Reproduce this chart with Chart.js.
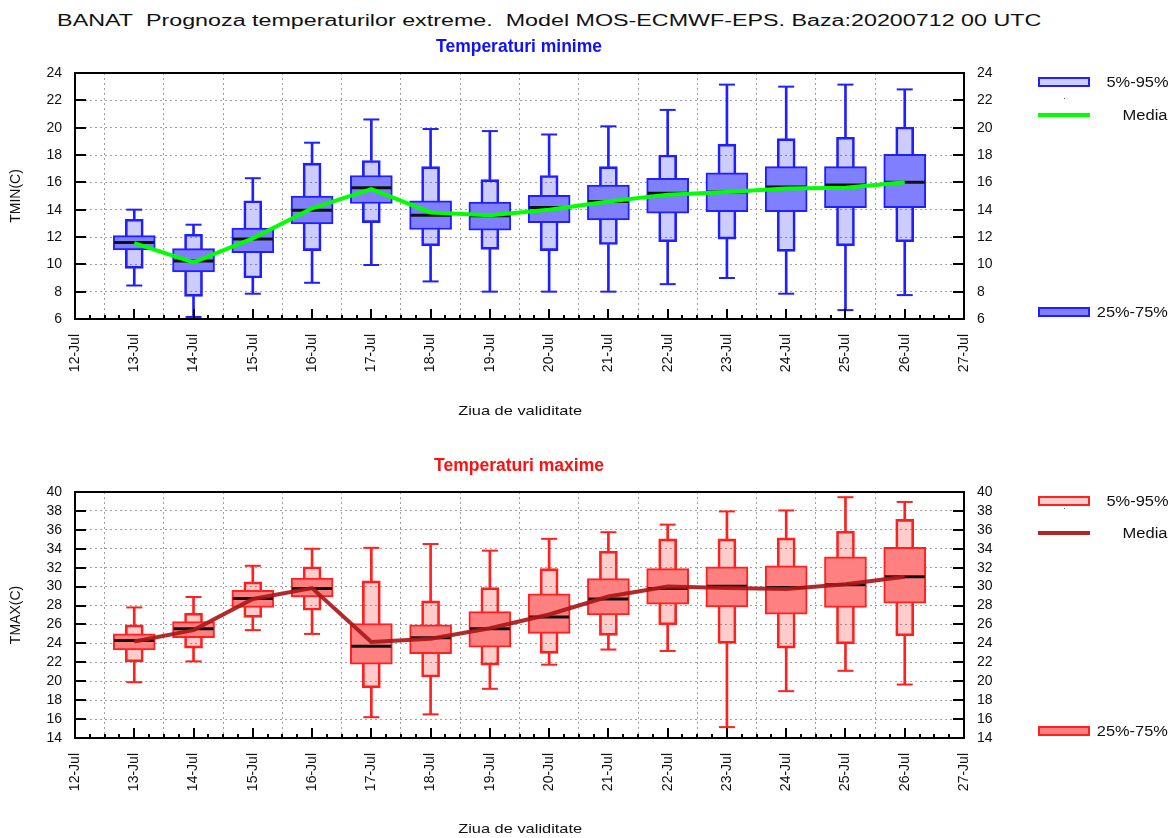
<!DOCTYPE html>
<html>
<head>
<meta charset="utf-8">
<script src="https://cdn.jsdelivr.net/npm/chart.js@4.4.0/dist/chart.umd.min.js"></script>
<style>
  body { margin: 0; background: #fff; font-family: "Liberation Sans", Arial, sans-serif; color: #111; }
  #page { position: relative; width: 1171px; height: 838px; overflow: hidden; }
  .panel { position: absolute; left: 0; width: 1171px; height: 419px; }
  .panel canvas { position: absolute; left: 0; top: 0; }
  .txt { position: absolute; white-space: nowrap; line-height: 1; display: inline-block; transform-origin: 50% 50%; }
  .sub { position: absolute; left: 519px; top: 38px; transform: translateX(-50%); font-size: 17.5px; font-weight: bold; line-height: 1; white-space: nowrap; }
  .sw { position: absolute; left: 1038px; width: 48px; height: 6px; border: 2px solid; }
  .ln { position: absolute; left: 1038px; width: 52px; height: 4px; }
  .dot { position: absolute; left: 1064px; width: 1px; height: 1px; background: #666; }
</style>
</head>
<body>
<div id="page">
  <div class="txt" style="top:13px;font-size:16px;" data-cx="549" data-w="984">BANAT&nbsp; Prognoza temperaturilor extreme.&nbsp; Model MOS-ECMWF-EPS. Baza:20200712 00 UTC</div>

  <div class="panel" style="top:0">
    <canvas id="cMin" width="1171" height="419"></canvas>
    <div class="sub" style="color:#1010ff">Temperaturi minime</div>
    <div class="txt" style="top:404px;font-size:13px;" data-cx="520" data-w="124">Ziua de validitate</div>
    <div class="sw" style="top:77px;background:#ccccff;border-color:#2020ff"></div>
    <div class="txt" style="top:75px;font-size:14px;" data-cx="1137" data-w="62">5%-95%</div>
    <div class="dot" style="top:98px"></div>
    <div class="ln" style="top:113px;background:#00ff00"></div>
    <div class="txt" style="top:108px;font-size:14px;" data-cx="1145.5" data-w="45">Media</div>
    <div class="sw" style="top:307px;background:#8080ff;border-color:#2020ff"></div>
    <div class="txt" style="top:305px;font-size:14px;" data-cx="1132.5" data-w="71">25%-75%</div>
  </div>

  <div class="panel" style="top:419px">
    <canvas id="cMax" width="1171" height="419"></canvas>
    <div class="sub" style="color:#ff1010">Temperaturi maxime</div>
    <div class="txt" style="top:403px;font-size:13px;" data-cx="520" data-w="124">Ziua de validitate</div>
    <div class="sw" style="top:77px;background:#ffcccc;border-color:#ff2020"></div>
    <div class="txt" style="top:75px;font-size:14px;" data-cx="1137" data-w="62">5%-95%</div>
    <div class="dot" style="top:89px"></div>
    <div class="ln" style="top:112px;background:#b02525"></div>
    <div class="txt" style="top:107px;font-size:14px;" data-cx="1145.5" data-w="45">Media</div>
    <div class="sw" style="top:307px;background:#ff8080;border-color:#ff2020"></div>
    <div class="txt" style="top:305px;font-size:14px;" data-cx="1132.5" data-w="71">25%-75%</div>
  </div>
</div>

<script>
// validity days (July)
const days = [13, 14, 15, 16, 17, 18, 19, 20, 21, 22, 23, 24, 25, 26];

// TMIN ensemble statistics
const tminMin  = [8.45, 6.15, 7.85, 8.65, 9.95, 8.75, 8.0, 8.0, 8.0, 8.55, 9.0, 7.85, 6.65, 7.75];
const tminP5   = [9.7, 7.65, 9.0, 11.0, 13.05, 11.35, 11.1, 11.0, 11.45, 11.65, 11.85, 10.95, 11.35, 11.65];
const tminP25  = [11.05, 9.45, 10.85, 12.95, 14.45, 12.55, 12.5, 13.05, 13.25, 13.75, 13.85, 13.85, 14.15, 14.15];
const tminMed  = [11.6, 10.25, 11.85, 13.95, 15.6, 13.6, 13.55, 14.15, 14.6, 15.2, 15.3, 15.65, 15.8, 16.0];
const tminP75  = [12.1, 11.15, 12.65, 15.0, 16.5, 14.65, 14.55, 15.05, 15.8, 16.3, 16.7, 17.15, 17.15, 18.05];
const tminP95  = [13.3, 12.2, 14.65, 17.4, 17.6, 17.15, 16.2, 16.5, 17.15, 18.0, 18.8, 19.2, 19.3, 20.05];
const tminMax  = [14.0, 12.9, 16.3, 18.9, 20.6, 19.9, 19.75, 19.5, 20.1, 21.3, 23.15, 23.0, 23.15, 22.8];
const tminMean = [11.55, 10.15, 11.9, 14.1, 15.5, 13.8, 13.6, 14.0, 14.6, 15.1, 15.3, 15.55, 15.6, 16.0];

// TMAX ensemble statistics
const tmaxMin  = [19.9, 22.1, 25.4, 25.0, 16.2, 16.5, 19.2, 21.75, 23.35, 23.2, 15.15, 18.95, 21.1, 19.65];
const tmaxP5   = [22.05, 23.5, 26.75, 27.5, 19.3, 20.45, 21.7, 22.95, 24.85, 25.95, 24.0, 23.5, 23.95, 24.8];
const tmaxP25  = [23.3, 24.6, 27.8, 28.9, 21.8, 22.9, 23.6, 25.05, 27.0, 28.15, 27.85, 27.1, 27.8, 28.25];
const tmaxMed  = [24.3, 25.55, 28.75, 29.8, 23.7, 24.6, 25.55, 26.8, 28.7, 29.8, 30.05, 29.9, 30.2, 31.05];
const tmaxP75  = [25.0, 26.3, 29.6, 30.9, 26.1, 25.95, 27.35, 29.25, 30.85, 31.9, 32.1, 32.2, 33.15, 34.15];
const tmaxP95  = [25.95, 27.2, 30.5, 32.1, 30.6, 28.5, 29.9, 31.9, 33.75, 35.05, 35.05, 35.15, 35.85, 37.1];
const tmaxMax  = [27.8, 28.9, 32.2, 34.0, 34.1, 34.5, 33.8, 35.05, 35.75, 36.55, 37.95, 38.05, 39.45, 38.95];
const tmaxMean = [24.2, 25.4, 28.7, 29.85, 24.15, 24.5, 25.6, 27.05, 28.95, 30.0, 29.85, 29.75, 30.25, 31.05];

const FONT = '"Liberation Sans", Arial, sans-serif';
const GRID = '#a0a0a0';

// frame + inward tick marks, gnuplot style
const framePlugin = {
  id: 'frame',
  afterDatasetsDraw(chart) {
    const { ctx, chartArea: a, scales: { x, y } } = chart;
    ctx.save();
    ctx.strokeStyle = '#000';
    ctx.lineWidth = 2;
    ctx.beginPath();
    for (let d = x.min; d <= x.max + 1e-6; d += 0.25) {
      const px = Math.round(x.getPixelForValue(d));
      const len = Math.abs(d - Math.round(d)) < 1e-6 ? 10 : 4;
      ctx.moveTo(px, a.bottom);
      ctx.lineTo(px, a.bottom - len);
    }
    y.ticks.forEach(t => {
      const py = Math.round(y.getPixelForValue(t.value));
      ctx.moveTo(a.left, py); ctx.lineTo(a.left + 11, py);
      ctx.moveTo(a.right, py); ctx.lineTo(a.right - 11, py);
    });
    ctx.stroke();
    ctx.strokeRect(a.left, a.top, a.right - a.left, a.bottom - a.top);
    ctx.restore();
  }
};

function pairs(lo, hi) {
  return days.map((d, i) => ({ x: d, y: [lo[i], hi[i]] }));
}
function pts(v) {
  return days.map((d, i) => ({ x: d, y: v[i] }));
}

function makeChart(canvas, s) {
  const tickFont = { family: FONT, size: 14 };
  return new Chart(canvas, {
    type: 'bar',
    data: {
      datasets: [
        { label: 'min', data: pairs(s.min, s.p5), backgroundColor: s.edge, barThickness: 2, grouped: false, order: 7 },
        { label: 'max', data: pairs(s.p95, s.max), backgroundColor: s.edge, barThickness: 2, grouped: false, order: 7 },
        {
          type: 'line', label: 'caps', data: pts(s.min).concat(pts(s.max)), showLine: false,
          pointStyle: 'line', pointRadius: 8, pointBorderWidth: 2, borderColor: s.edge, pointBorderColor: s.edge, order: 6,
        },
        {
          label: '5%-95%', data: pairs(s.p5, s.p95), backgroundColor: s.light, borderColor: s.edge,
          borderWidth: 2, borderSkipped: false, barThickness: 18, grouped: false, order: 5,
        },
        {
          label: '25%-75%', data: pairs(s.p25, s.p75), backgroundColor: s.mid, borderColor: s.edge,
          borderWidth: 2, borderSkipped: false, barThickness: 42, grouped: false, order: 4,
        },
        {
          type: 'line', label: 'mediana', data: pts(s.med), showLine: false,
          pointStyle: 'line', pointRadius: 20, pointBorderWidth: 3, borderColor: '#111', pointBorderColor: '#111', order: 3,
        },
        {
          type: 'line', label: 'Media', data: pts(s.mean), borderColor: s.line, borderWidth: 4,
          pointRadius: 0, tension: 0, fill: false, order: 1,
        },
      ],
    },
    options: {
      responsive: false,
      animation: false,
      layout: { padding: { top: 73, left: 0, right: 0, bottom: 0 } },
      plugins: { legend: { display: false }, tooltip: { enabled: false } },
      scales: {
        x: {
          type: 'linear', min: 12, max: 27, offset: false,
          ticks: {
            stepSize: 1, autoSkip: false, minRotation: 90, maxRotation: 90, padding: 15,
            color: '#111', font: tickFont, callback: v => v + '-Jul',
          },
          grid: { color: c => (c.tick && (c.tick.value === 12 || c.tick.value === 27)) ? 'transparent' : GRID, drawTicks: false },
          border: { display: false, dash: [2, 3] },
          afterFit: sc => { sc.height = 100; },
        },
        y: {
          min: s.yMin, max: s.yMax,
          ticks: { stepSize: 2, autoSkip: false, padding: 13, color: '#111', font: tickFont },
          grid: { color: GRID, drawTicks: false },
          border: { display: false, dash: [2, 3] },
          title: { display: true, text: s.title, color: '#111', font: { family: FONT, size: 14 }, padding: { top: 8, bottom: 0 } },
          afterFit: sc => { sc.width = 75; },
        },
        y2: {
          position: 'right', min: s.yMin, max: s.yMax,
          ticks: { stepSize: 2, autoSkip: false, padding: 13, color: '#111', font: tickFont },
          grid: { display: false, drawTicks: false },
          border: { display: false },
          afterFit: sc => { sc.width = 207; },
        },
      },
    },
    plugins: [framePlugin],
  });
}

makeChart(document.getElementById('cMin'), {
  min: tminMin, p5: tminP5, p25: tminP25, med: tminMed, p75: tminP75, p95: tminP95, max: tminMax, mean: tminMean,
  yMin: 6, yMax: 24, title: 'TMIN(C)',
  edge: '#2020ff', light: 'rgba(0,0,255,0.2)', mid: '#8080ff', line: '#00ff00',
});

makeChart(document.getElementById('cMax'), {
  min: tmaxMin, p5: tmaxP5, p25: tmaxP25, med: tmaxMed, p75: tmaxP75, p95: tmaxP95, max: tmaxMax, mean: tmaxMean,
  yMin: 14, yMax: 40, title: 'TMAX(C)',
  edge: '#ff2020', light: 'rgba(255,0,0,0.2)', mid: '#ff8080', line: 'rgba(170,25,25,0.92)',
});

// stretch the html labels to the widths seen in the picture
document.querySelectorAll('[data-w]').forEach(el => {
  const w = el.getBoundingClientRect().width;
  el.style.left = (+el.dataset.cx - w / 2) + 'px';
  el.style.transform = 'scaleX(' + (+el.dataset.w / w).toFixed(3) + ')';
});
</script>
</body>
</html>
